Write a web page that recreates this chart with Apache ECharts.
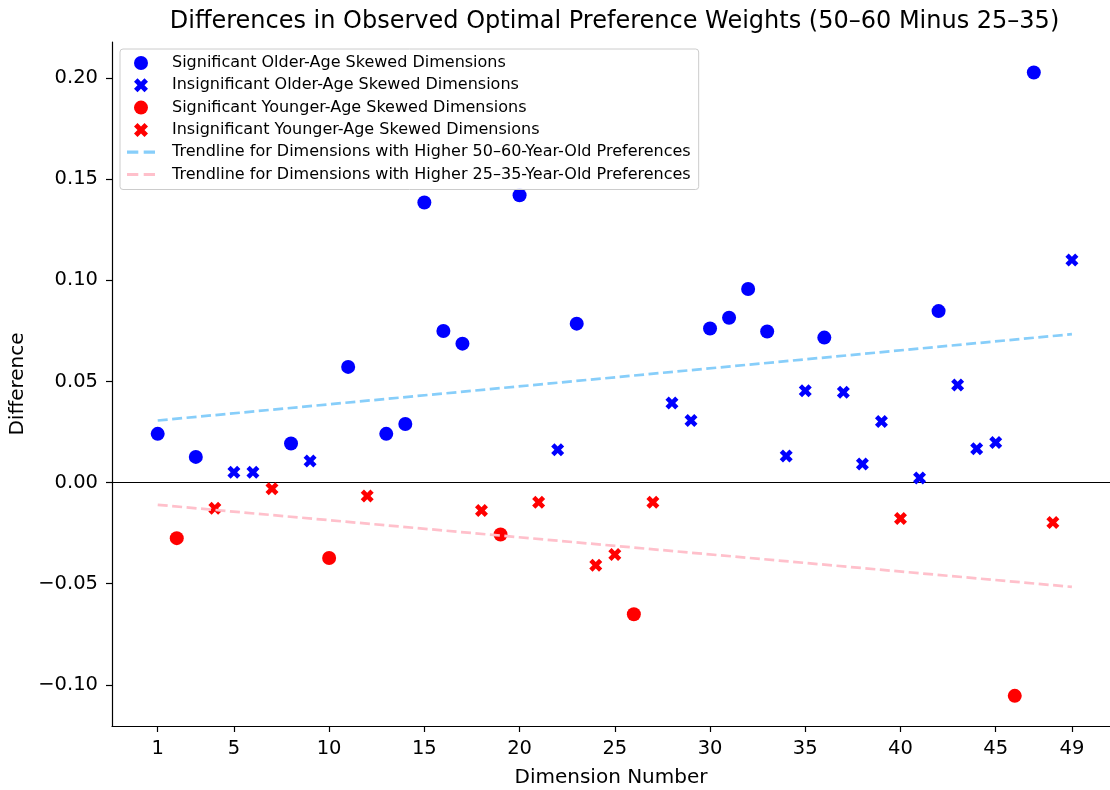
<!DOCTYPE html>
<html>
<head>
<meta charset="utf-8">
<title>Differences in Observed Optimal Preference Weights</title>
<script src="https://cdn.jsdelivr.net/npm/echarts@6/dist/echarts.min.js"></script>
<style>
  html, body { margin: 0; padding: 0; background: #ffffff; }
  #chart { width: 1110px; height: 790px; }
</style>
</head>
<body>
<div id="chart"></div>
<script>
// Dimension numbers and the observed difference (50–60 minus 25–35) for each
const dimensions = [1, 2, 3, 4, 5, 6, 7, 8, 9, 10, 11, 12, 13, 14, 15, 16, 17, 18, 19, 20,
  21, 22, 23, 24, 25, 26, 27, 28, 29, 30, 31, 32, 33, 34, 35, 36, 37, 38, 39, 40,
  41, 42, 43, 44, 45, 46, 47, 48, 49];
const differences = [0.0241, -0.0275, 0.0127, -0.0127, 0.0051, 0.0051, -0.0030, 0.0193, 0.0107, -0.0373,
  0.0572, -0.0067, 0.0241, 0.0290, 0.1385, 0.0750, 0.0687, -0.0138, -0.0257, 0.1421,
  -0.0097, 0.0162, 0.0786, -0.0409, -0.0356, -0.0651, -0.0097, 0.0394, 0.0307, 0.0762,
  0.0815, 0.0957, 0.0747, 0.0132, 0.0454, 0.0717, 0.0447, 0.0092, 0.0302, -0.0178,
  0.0023, 0.0848, 0.0483, 0.0167, 0.0198, -0.1055, 0.2028, -0.0198, 0.1101];
// 1 = statistically significant difference, 0 = not significant
const significant = [1, 1, 1, 0, 0, 0, 0, 1, 0, 1,
  1, 0, 1, 1, 1, 1, 1, 0, 1, 1,
  0, 0, 1, 0, 0, 1, 0, 0, 0, 1,
  1, 1, 1, 0, 0, 1, 0, 0, 0, 0,
  0, 1, 0, 0, 0, 1, 1, 0, 0];

// Linear trendlines, evaluated at the first and last dimension
const trendX = [1, 49];
const olderTrendY = [0.0307, 0.0734];
const youngerTrendY = [-0.0110, -0.0516];

// Axis ticks
const xTicks = [1, 5, 10, 15, 20, 25, 30, 35, 40, 45, 49];
const yTicks = [-0.10, -0.05, 0.00, 0.05, 0.10, 0.15, 0.20];

const seriesNames = [
  'Significant Older-Age Skewed Dimensions',
  'Insignificant Older-Age Skewed Dimensions',
  'Significant Younger-Age Skewed Dimensions',
  'Insignificant Younger-Age Skewed Dimensions',
  'Trendline for Dimensions with Higher 50–60-Year-Old Preferences',
  'Trendline for Dimensions with Higher 25–35-Year-Old Preferences'
];

const FONT = 'DejaVu Sans';
const X_MARK = 'path://M3 0L4 1L3 2L4 3L3 4L2 3L1 4L0 3L1 2L0 1L1 0L2 1Z';
// Two short dashes, used as the legend key of the trendlines
const DASH_KEY = 'path://M0 0H10.5V3H0ZM15.5 0H26V3H15.5Z';
const BLUE = '#0000ff';
const RED = '#ff0000';
const SKY = '#87cefa';
const PINK = '#ffc0cb';

// Split the points by direction of the difference and by significance
function pick(older, sig) {
  const out = [];
  dimensions.forEach((d, i) => {
    const v = differences[i];
    if ((v > 0) === older && (significant[i] === 1) === sig) out.push([d, v]);
  });
  return out;
}

function tickText(v) {
  const s = Math.abs(v).toFixed(2);
  return v < -1e-9 ? '\u2212' + s : s;
}

const chart = echarts.init(document.getElementById('chart'), null, { renderer: 'canvas' });

function scatter(name, symbol, size, color, data) {
  return {
    type: 'scatter', name, symbol, symbolSize: size, z: 3,
    itemStyle: { color, opacity: 1 },
    emphasis: { disabled: true },
    data
  };
}

function trend(name, color, ys) {
  return {
    name, type: 'line', z: 4, symbol: 'none', showSymbol: false,
    lineStyle: { color, width: 2.7, type: [10, 4.5] },
    itemStyle: { color },
    emphasis: { disabled: true },
    data: trendX.map((x, i) => [x, ys[i]])
  };
}

const older = scatter(seriesNames[0], 'circle', 14, BLUE, pick(true, true));
older.markLine = {
  silent: true, symbol: 'none', z: 1,
  label: { show: false },
  lineStyle: { color: '#000000', width: 1.2, type: 'solid' },
  emphasis: { disabled: true },
  data: [{ yAxis: 0 }]
};

chart.setOption({
  animation: false,
  backgroundColor: '#ffffff',
  textStyle: { fontFamily: FONT },
  graphic: [{
    type: 'text',
    x: 614.5, y: 22,
    style: {
      text: 'Differences in Observed Optimal Preference Weights (50–60 Minus 25–35)',
      font: '24px "DejaVu Sans"',
      fill: '#000000',
      textAlign: 'center',
      textVerticalAlign: 'middle'
    }
  }],
  grid: { left: 112, top: 42, right: 0, bottom: 64, containLabel: false, outerBoundsMode: 'none' },
  xAxis: {
    type: 'value',
    min: -1.4, max: 51.0,
    name: 'Dimension Number',
    nameLocation: 'middle',
    nameGap: 42,
    nameTextStyle: { fontFamily: FONT, fontSize: 20, color: '#000' },
    splitLine: { show: false },
    axisLine: { onZero: false, lineStyle: { color: '#000', width: 1.2 } },
    axisTick: { show: true, length: 6, lineStyle: { color: '#000', width: 1.2 }, customValues: xTicks },
    axisLabel: { fontFamily: FONT, fontSize: 19.5, color: '#000', margin: 13, customValues: xTicks, formatter: v => String(v) }
  },
  yAxis: {
    type: 'value',
    min: -0.1204, max: 0.2179,
    name: 'Difference',
    nameLocation: 'middle',
    nameRotate: 90,
    nameGap: 76,
    nameTextStyle: { fontFamily: FONT, fontSize: 20, color: '#000' },
    splitLine: { show: false },
    axisLine: { show: true, onZero: false, lineStyle: { color: '#000', width: 1.2 } },
    axisTick: { show: true, length: 6, lineStyle: { color: '#000', width: 1.2 }, customValues: yTicks },
    axisLabel: { fontFamily: FONT, fontSize: 19.5, color: '#000', margin: 14, customValues: yTicks, formatter: tickText }
  },
  legend: {
    orient: 'vertical',
    left: 120, top: 49,
    padding: [6, 8, 7, 7],
    itemWidth: 28, itemHeight: 14, itemGap: 6.3,
    backgroundColor: 'rgba(255,255,255,0.85)',
    borderColor: '#cccccc', borderWidth: 1, borderRadius: 3,
    textStyle: { fontFamily: FONT, fontSize: 16, color: '#000', lineHeight: 16, padding: [0, 0, 0, 12] },
    selectedMode: false,
    data: [
      { name: seriesNames[0] },
      { name: seriesNames[1] },
      { name: seriesNames[2] },
      { name: seriesNames[3] },
      { name: seriesNames[4], icon: DASH_KEY, itemStyle: { color: SKY } },
      { name: seriesNames[5], icon: DASH_KEY, itemStyle: { color: PINK } }
    ]
  },
  series: [
    older,
    scatter(seriesNames[1], X_MARK, 13, BLUE, pick(true, false)),
    scatter(seriesNames[2], 'circle', 14, RED, pick(false, true)),
    scatter(seriesNames[3], X_MARK, 13, RED, pick(false, false)),
    trend(seriesNames[4], SKY, olderTrendY),
    trend(seriesNames[5], PINK, youngerTrendY)
  ]
});
</script>
</body>
</html>
